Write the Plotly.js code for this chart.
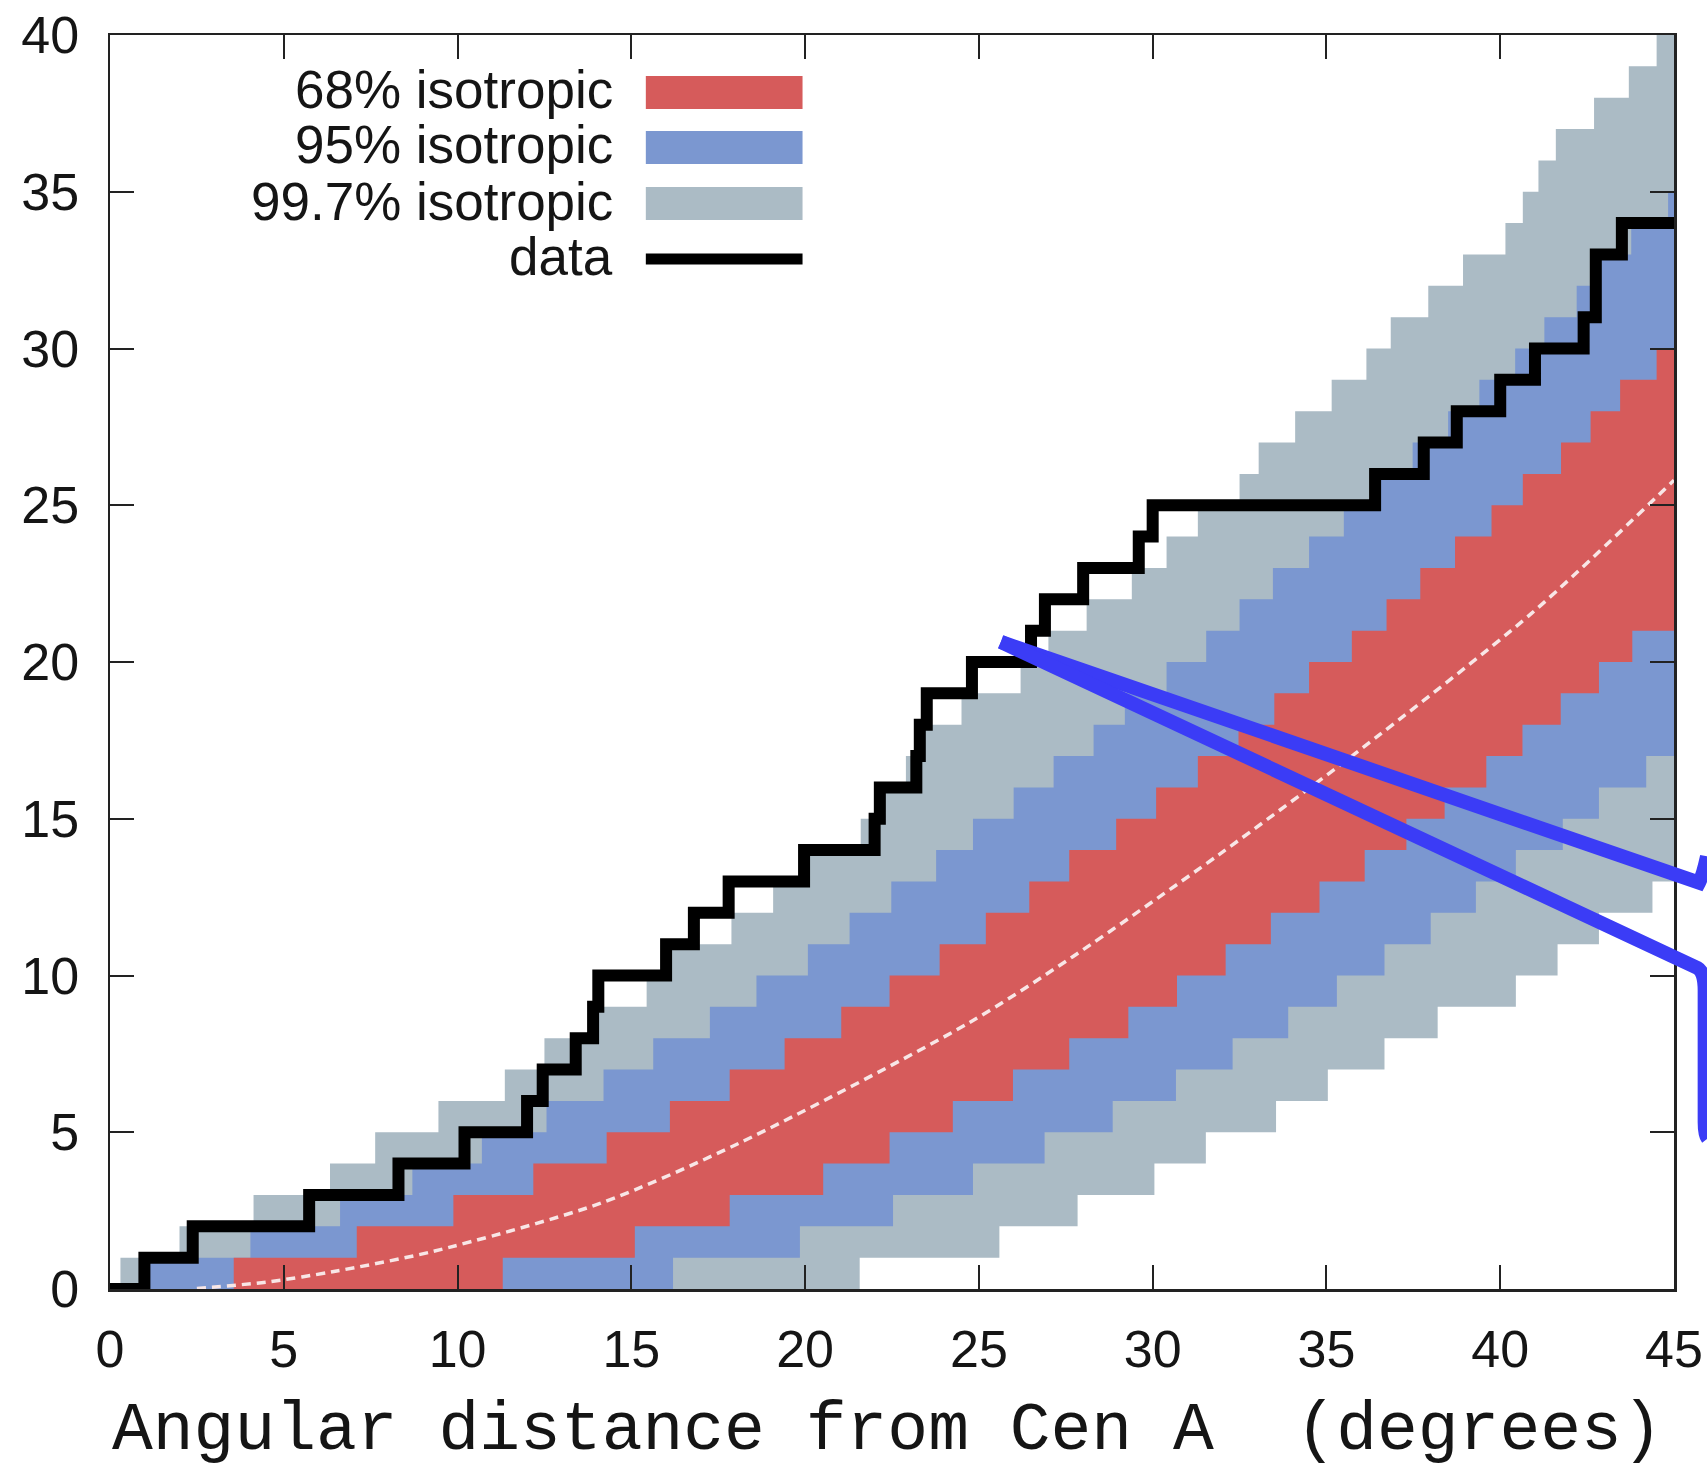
<!DOCTYPE html>
<html>
<head>
<meta charset="utf-8">
<script src="https://cdn.plot.ly/plotly-3.0.1.min.js"></script>
<style>
html,body{margin:0;padding:0;background:#ffffff;overflow:hidden;}
#chart{width:1707px;height:1468px;}
</style>
</head>
<body>
<div id="chart"></div>
<script>
// Angular distance (degrees) at which each cumulative-count step edge rises to level 1, 2, 3, ...
const dataSteps = [0.99, 2.38, 5.73, 8.3, 10.2, 12.0, 12.45, 13.4, 13.9, 14.05, 16.0, 16.8, 17.8, 19.97, 22.0, 22.15, 23.2, 23.3, 23.5, 24.8, 26.5, 26.9, 28.0, 29.6, 30.0, 36.4, 37.8, 38.75, 40.0, 41.0, 42.4, 42.75, 42.75, 43.5];

const band68Upper = [3.56, 7.1, 9.88, 12.18, 14.29, 16.11, 17.83, 19.41, 21.04, 22.43, 23.87, 25.2, 26.45, 27.6, 28.95, 30.1, 31.3, 32.47, 33.5, 34.5, 35.73, 36.73, 37.7, 38.7, 39.75, 40.65, 41.75, 42.6, 43.45, 44.5];
const band68Lower = [11.3, 15.1, 17.83, 20.52, 22.43, 24.25, 25.98, 27.6, 29.3, 30.7, 32.1, 33.4, 34.8, 36.1, 37.3, 38.4, 39.6, 40.64, 41.74, 42.84, 43.8];

const band95Upper = [1.1, 4.04, 6.62, 8.7, 10.7, 12.56, 14.2, 15.63, 17.26, 18.6, 20.08, 21.28, 22.48, 23.77, 24.83, 26.0, 27.15, 28.3, 29.2, 30.4, 31.54, 32.5, 33.46, 34.5, 35.5, 36.4, 37.48, 38.5, 39.4, 40.43, 41.27, 42.2, 42.9, 43.77, 44.83];
const band95Lower = [16.2, 19.85, 22.53, 24.83, 26.89, 28.85, 30.67, 32.3, 33.9, 35.3, 36.67, 38.0, 39.3, 40.45, 41.8, 42.84, 44.2];

const band997Upper = [0.3, 2.0, 4.13, 6.33, 7.63, 9.45, 11.36, 12.5, 13.8, 15.44, 16.0, 17.88, 19.08, 19.9, 21.6, 22.1, 22.9, 23.4, 24.5, 26.2, 27.0, 28.1, 29.4, 30.4, 31.3, 32.5, 33.05, 34.1, 35.15, 36.15, 36.85, 37.93, 38.93, 40.15, 40.65, 41.1, 41.6, 42.7, 43.7, 44.5];
const band997Lower = [21.57, 25.59, 27.84, 30.05, 31.53, 33.55, 35.04, 36.67, 38.2, 40.45, 41.65, 42.84, 44.38];

// isotropic expectation (dashed white curve)
const meanX = [2.5, 4.5, 6.4, 9.3, 14.1, 18.1, 24.7, 27.7, 31.9, 35.85, 40.9, 45];
const meanY = [0.02, 0.22, 0.55, 1.2, 2.73, 4.65, 8.48, 10.6, 13.85, 17.1, 21.55, 25.8];

const xTicks = [0, 5, 10, 15, 20, 25, 30, 35, 40, 45];
const yTicks = [0, 5, 10, 15, 20, 25, 30, 35, 40];
const legendLabels = ['68% isotropic', '95% isotropic', '99.7% isotropic', 'data'];
const xTitle = 'Angular distance from Cen A\u00a0 (degrees)';

const X_MAX = 45, Y_MAX = 40;
const COL68 = '#d65b5b', COL95 = '#7b97d0', COL997 = '#abbbc5';

function stepEdge(steps) {
  const x = [0], y = [0];
  steps.forEach((s, i) => { x.push(s, s); y.push(i, i + 1); });
  x.push(X_MAX); y.push(steps.length);
  return {x, y};
}
function bandPolygon(upper, lower) {
  const u = stepEdge(upper), l = stepEdge(lower);
  return {x: u.x.concat(l.x.slice().reverse()), y: u.y.concat(l.y.slice().reverse())};
}
function bandTrace(upper, lower, color, name) {
  const p = bandPolygon(upper, lower);
  return {type: 'scatter', mode: 'lines', x: p.x, y: p.y, fill: 'toself', fillcolor: color,
          line: {width: 0, color: color}, name: name, hoverinfo: 'skip', showlegend: false};
}
const dataEdge = stepEdge(dataSteps);

const traces = [
  bandTrace(band997Upper, band997Lower, COL997, legendLabels[2]),
  bandTrace(band95Upper, band95Lower, COL95, legendLabels[1]),
  bandTrace(band68Upper, band68Lower, COL68, legendLabels[0]),
  {type: 'scatter', mode: 'lines', x: meanX, y: meanY,
   line: {color: '#f8e6e6', width: 3.5, dash: '9px,6px', shape: 'spline', smoothing: 0.8},
   hoverinfo: 'skip', showlegend: false},
  {type: 'scatter', mode: 'lines', x: dataEdge.x, y: dataEdge.y, line: {color: '#000000', width: 12},
   name: legendLabels[3], showlegend: false}
];

const FONT = '"Liberation Sans", Arial, Helvetica, sans-serif';
const axisCommon = {
  showgrid: false, zeroline: false, showline: true, mirror: 'ticks',
  linecolor: '#222222', linewidth: 2.5,
  ticks: 'inside', ticklen: 24, tickwidth: 2, tickcolor: '#222222',
  tickfont: {family: FONT, size: 52, color: '#151515'},
  fixedrange: true
};

// legend drawn gnuplot-style: label on the left, sample on the right
const legRowY = [0.9542, 0.9103, 0.8656, 0.8214];
const legColors = [COL68, COL95, COL997];
const shapes = [];
const annotations = [];
legendLabels.forEach((lab, i) => {
  annotations.push({xref: 'paper', yref: 'paper', x: 0.3231, y: legRowY[i] + 0.002, xanchor: 'right', yanchor: 'middle',
    text: lab, showarrow: false, font: {family: FONT, size: 53, color: '#151515'}});
  if (i < 3) {
    shapes.push({type: 'rect', xref: 'paper', yref: 'paper', x0: 0.3426, x1: 0.4428,
      y0: legRowY[i] - 0.0132, y1: legRowY[i] + 0.0132, fillcolor: legColors[i], line: {width: 0}});
  } else {
    shapes.push({type: 'line', xref: 'paper', yref: 'paper', x0: 0.3426, x1: 0.4428,
      y0: legRowY[i], y1: legRowY[i], line: {color: '#000000', width: 11}});
  }
});

// blue call-out lines leading off to the right
shapes.push({type: 'path', xref: 'paper', yref: 'paper', layer: 'above',
  path: 'M 0.5696,0.5160 L 1.0160,0.3240 Q 1.0185,0.3300 1.0211,0.3450',
  line: {color: '#3b3cf6', width: 14}});
shapes.push({type: 'path', xref: 'paper', yref: 'paper', layer: 'above',
  path: 'M 0.5696,0.5160 L 1.0150,0.2560 Q 1.0196,0.2530 1.0196,0.2380 L 1.0196,0.1330 Q 1.0196,0.1230 1.0215,0.1200',
  line: {color: '#3b3cf6', width: 14}});

annotations.push({xref: 'paper', yref: 'paper', x: 0.497, y: -0.1132, xanchor: 'center', yanchor: 'middle',
  text: xTitle, showarrow: false, font: {family: '"Liberation Mono", "Courier New", Courier, monospace', size: 68, color: '#151515'}});

const layout = {
  width: 1707, height: 1468,
  margin: {l: 109.5, r: 33, t: 35, b: 179, pad: 0},
  paper_bgcolor: '#ffffff', plot_bgcolor: '#ffffff',
  showlegend: false,
  xaxis: Object.assign({}, axisCommon, {range: [0, X_MAX], tickvals: xTicks, ticktext: xTicks.map(String), ticklabelstandoff: 13}),
  yaxis: Object.assign({}, axisCommon, {range: [0, Y_MAX], tickvals: yTicks, ticktext: yTicks.map(String), ticklabelstandoff: 18}),
  shapes: shapes,
  annotations: annotations
};

Plotly.newPlot('chart', traces, layout, {displayModeBar: false, staticPlot: true});
</script>
</body>
</html>
